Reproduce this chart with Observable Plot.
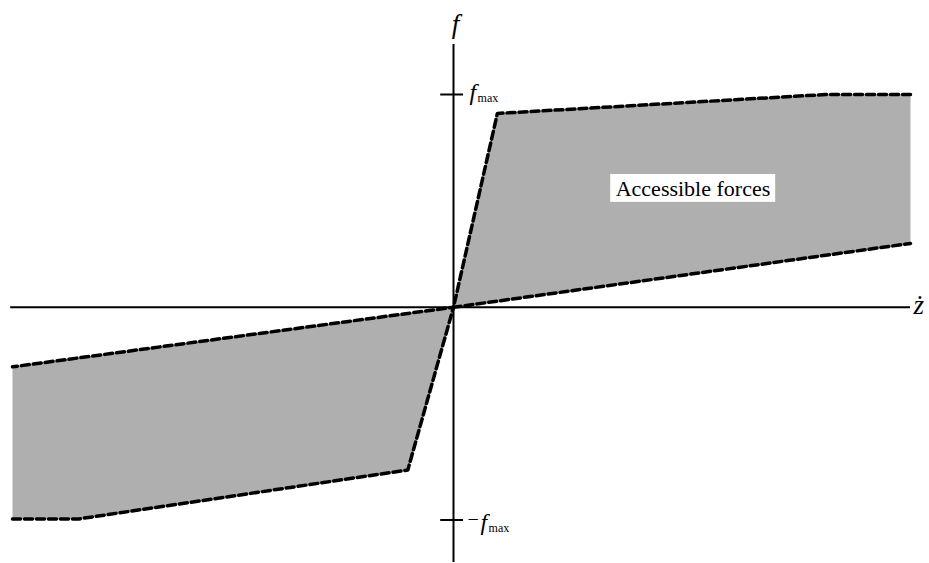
<!DOCTYPE html>
<html><head><meta charset="utf-8">
<script src="https://cdn.jsdelivr.net/npm/d3@7"></script>
<script src="https://cdn.jsdelivr.net/npm/@observablehq/plot@0.6"></script>
<style>body{margin:0;background:#fff}</style>
</head><body><div id="chart"></div>
<script>
// Normalised units: z-dot (x) with right edge = 1, force (y) with f_max = 1
const upperX = [1.0, 0.814, 0.096, 0, 1.0];
const upperY = [1.0, 1.0, 0.911, 0, 0.30];
const lowerX = [-0.965, -0.82, -0.10, 0, -0.965];
const lowerY = [-0.995, -0.995, -0.765, 0, -0.28];
const tickValues = [1, -1];
const regionLabel = "Accessible forces";

const upper = upperX.map((x, i) => ({x, y: upperY[i]}));
const lower = lowerX.map((x, i) => ({x, y: lowerY[i]}));

const serif = "'Liberation Serif', 'Times New Roman', serif";

const chart = Plot.plot({
  width: 929,
  height: 563,
  x: {domain: [-1, 1], range: [-4, 910], axis: null},
  y: {domain: [-1, 1], range: [519.5, 94], axis: null},
  style: {background: "#fff", fontFamily: serif},
  marks: [
    Plot.line(upper, {x: "x", y: "y", fill: "#afafaf", stroke: "none"}),
    Plot.line(lower, {x: "x", y: "y", fill: "#afafaf", stroke: "none"}),
    Plot.line(upper, {x: "x", y: "y", stroke: "#000", strokeWidth: 3.5, strokeDasharray: "8,4"}),
    Plot.line(lower, {x: "x", y: "y", stroke: "#000", strokeWidth: 3.5, strokeDasharray: "8,4"}),
    Plot.ruleY([0], {x1: -0.969, x2: 1, stroke: "#000", strokeWidth: 2}),
    Plot.ruleX([0], {y1: -1.2, y2: 1.235, stroke: "#000", strokeWidth: 2}),
    Plot.ruleY(tickValues, {x1: -0.028, x2: 0.022, stroke: "#000", strokeWidth: 2}),
    // region label with white box
    Plot.rect([0], {x1: 0.344, x2: 0.705, y1: 0.493, y2: 0.624, fill: "#fff"}),
    Plot.text([regionLabel], {x: 0.524, y: 0.559, text: d => d, fontFamily: serif, fontSize: 22, fill: "#000", dy: 1}),
    // axis titles
    Plot.text(["f"], {x: 0, y: 1.235, text: d => d, fontFamily: serif, fontStyle: "italic", fontSize: 27, dy: -20, dx: 2, fill: "#000"}),
    Plot.text(["ż"], {x: 1, y: 0, text: d => d, fontFamily: serif, fontStyle: "italic", fontSize: 27, textAnchor: "start", dx: 3, dy: -2, fill: "#000"}),
    // f_max tick labels
    Plot.text(["f"], {x: 0.022, y: 1, text: d => d, fontFamily: serif, fontStyle: "italic", fontSize: 24, textAnchor: "start", dx: 6, dy: -2, fill: "#000"}),
    Plot.text(["max"], {x: 0.022, y: 1, text: d => d, fontFamily: serif, fontSize: 12, textAnchor: "start", dx: 14, dy: 4, fill: "#000"}),
    Plot.text(["\u2212"], {x: 0.022, y: -1, text: d => d, fontFamily: serif, fontSize: 20, textAnchor: "start", dx: 4, dy: 0, fill: "#000"}),
    Plot.text(["f"], {x: 0.022, y: -1, text: d => d, fontFamily: serif, fontStyle: "italic", fontSize: 24, textAnchor: "start", dx: 17, dy: 2, fill: "#000"}),
    Plot.text(["max"], {x: 0.022, y: -1, text: d => d, fontFamily: serif, fontSize: 12, textAnchor: "start", dx: 25, dy: 8, fill: "#000"})
  ]
});
document.getElementById("chart").appendChild(chart);
</script>
</body></html>
